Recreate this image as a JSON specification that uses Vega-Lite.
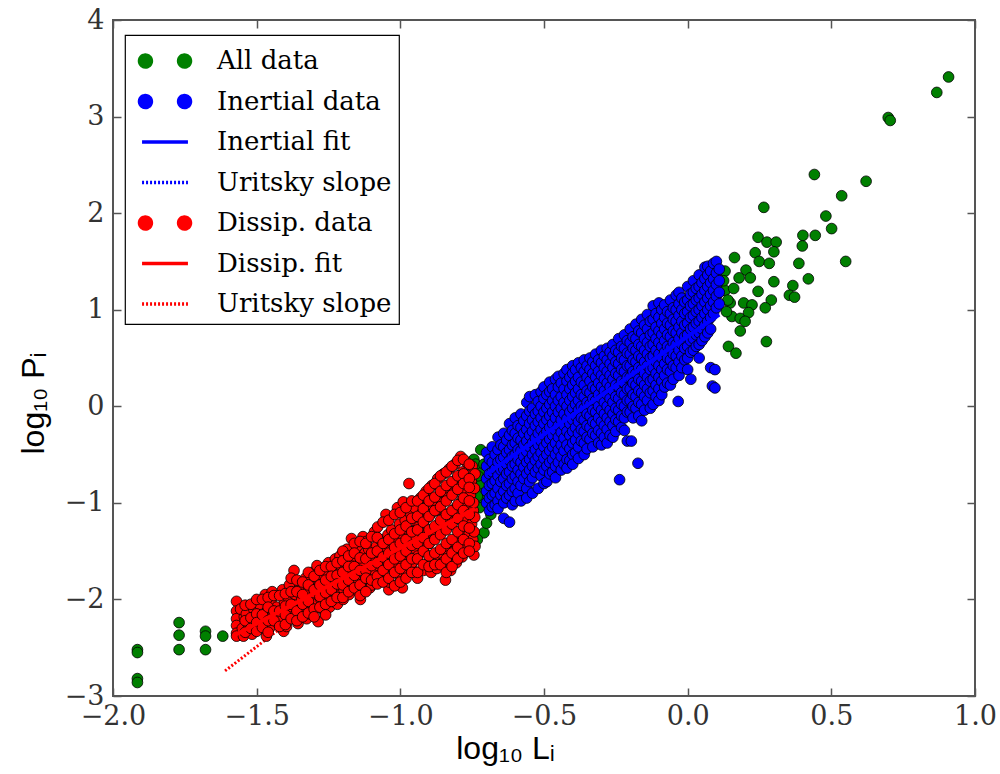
{
"$schema": "https://vega.github.io/schema/vega-lite/v6.json",
"width": 862, "height": 676,
"autosize": {"type": "none"},
"padding": {"left": 113, "top": 20, "right": 25, "bottom": 78},
"background": "white",
"config": {
  "view": {"stroke": "#555", "strokeWidth": 2},
  "axis": {"grid": false, "domain": false, "labelFlush": false, "labelFont": "DejaVu Serif", "labelFontSize": 27, "labelColor": "#333", "tickColor": "#555", "tickWidth": 1.5, "tickSize": -8, "titleFont": "Liberation Sans", "titleFontSize": 32, "titleFontWeight": "normal", "titleColor": "black"},
  "legend": {"orient": "none", "legendX": 12, "legendY": 15, "padding": 7, "symbolOffset": 14, "labelOffset": 33, "rowPadding": 8.5, "symbolSize": 1156, "symbolStrokeWidth": 3.5, "strokeColor": "black", "fillColor": "white", "strokeWidth": 1.2, "labelFont": "DejaVu Serif", "labelFontSize": 26, "labelColor": "black", "labelLimit": 400}
},
"datasets": {
"lines": [
{"x":-1.61,"y":-2.74,"k":"Uritsky slope D"},{"x":-0.76,"y":-0.80,"k":"Uritsky slope D"},
{"x":-0.68,"y":-0.62,"k":"Uritsky slope I"},{"x":0.10,"y":0.92,"k":"Uritsky slope I"},
{"x":-1.57,"y":-2.36,"k":"Dissip. fit"},{"x":-0.74,"y":-1.06,"k":"Dissip. fit"},
{"x":-0.70,"y":-0.70,"k":"Inertial fit"},{"x":0.11,"y":0.95,"k":"Inertial fit"}
],
"green": [
{"x":-1.915,"y":-2.52},{"x":-1.915,"y":-2.55},{"x":-1.915,"y":-2.82},{"x":-1.915,"y":-2.86},
{"x":-1.77,"y":-2.24},{"x":-1.77,"y":-2.37},{"x":-1.77,"y":-2.52},
{"x":-1.678,"y":-2.33},{"x":-1.678,"y":-2.38},{"x":-1.678,"y":-2.52},{"x":-1.618,"y":-2.38},
{"x":-0.72,"y":-0.45},{"x":-0.744,"y":-0.55},{"x":-0.72,"y":-0.69},{"x":-0.714,"y":-0.83},{"x":-0.72,"y":-0.97},{"x":-0.685,"y":-1.12},{"x":-0.709,"y":-1.31},{"x":-0.732,"y":-1.38},{"x":-0.738,"y":-0.6},{"x":-0.709,"y":-0.6},{"x":-0.72,"y":-0.8},{"x":-0.732,"y":-0.93},{"x":-0.70,"y":-1.21},{"x":-0.73,"y":-0.72},{"x":-0.725,"y":-1.05},
{"x":0.908,"y":3.41},{"x":0.867,"y":3.25},{"x":0.698,"y":2.99},{"x":0.705,"y":2.96},{"x":0.441,"y":2.40},{"x":0.621,"y":2.33},{"x":0.536,"y":2.18},{"x":0.265,"y":2.06},{"x":0.481,"y":1.97},{"x":0.501,"y":1.84},{"x":0.245,"y":1.75},{"x":0.276,"y":1.70},{"x":0.308,"y":1.70},{"x":0.401,"y":1.77},{"x":0.444,"y":1.77},{"x":0.399,"y":1.66},{"x":0.30,"y":1.60},{"x":0.235,"y":1.59},{"x":0.163,"y":1.54},{"x":0.55,"y":1.50},{"x":0.249,"y":1.50},{"x":0.284,"y":1.48},{"x":0.387,"y":1.48},{"x":0.13,"y":1.40},{"x":0.203,"y":1.41},{"x":0.179,"y":1.33},{"x":0.218,"y":1.33},{"x":0.30,"y":1.29},{"x":0.42,"y":1.32},{"x":0.366,"y":1.25},{"x":0.354,"y":1.15},{"x":0.372,"y":1.13},{"x":0.245,"y":1.19},{"x":0.291,"y":1.10},{"x":0.27,"y":1.02},{"x":0.148,"y":1.07},{"x":0.195,"y":1.07},{"x":0.224,"y":1.05},{"x":0.154,"y":0.93},{"x":0.183,"y":0.91},{"x":0.212,"y":0.97},{"x":0.183,"y":0.78},{"x":0.20,"y":0.88},{"x":0.274,"y":0.67},{"x":0.142,"y":0.62},{"x":0.168,"y":0.55},{"x":0.13,"y":1.2},{"x":0.14,"y":1.1},{"x":0.125,"y":1.3},{"x":0.135,"y":0.98},{"x":0.16,"y":1.22}
],
"blue": [
{"x":-0.70,"y":-0.48},{"x":-0.70,"y":-0.62},{"x":-0.70,"y":-0.75},{"x":-0.70,"y":-0.88},{"x":-0.70,"y":-1.00},
{"x":-0.69,"y":-0.55},{"x":-0.69,"y":-0.70},{"x":-0.69,"y":-0.82},{"x":-0.69,"y":-0.95},{"x":-0.69,"y":-1.08},
{"x":-0.68,"y":-0.42},{"x":-0.68,"y":-0.58},{"x":-0.68,"y":-0.68},{"x":-0.68,"y":-0.80},{"x":-0.68,"y":-0.92},{"x":-0.68,"y":-1.04},
{"x":-0.67,"y":-0.50},{"x":-0.67,"y":-0.65},{"x":-0.67,"y":-0.77},{"x":-0.67,"y":-0.90},{"x":-0.67,"y":-1.02},
{"x":-0.66,"y":-0.32},{"x":-0.66,"y":-0.45},{"x":-0.66,"y":-0.58},{"x":-0.66,"y":-0.72},{"x":-0.66,"y":-0.85},{"x":-0.66,"y":-0.98},{"x":-0.66,"y":-1.06},
{"x":-0.65,"y":-0.40},{"x":-0.65,"y":-0.55},{"x":-0.65,"y":-0.66},{"x":-0.65,"y":-0.78},{"x":-0.65,"y":-0.92},
{"x":-0.64,"y":-0.28},{"x":-0.64,"y":-0.42},{"x":-0.64,"y":-0.53},{"x":-0.64,"y":-0.65},{"x":-0.64,"y":-0.75},{"x":-0.64,"y":-0.88},{"x":-0.64,"y":-1.00},{"x":-0.64,"y":-1.16},
{"x":-0.63,"y":-0.35},{"x":-0.63,"y":-0.48},{"x":-0.63,"y":-0.60},{"x":-0.63,"y":-0.70},{"x":-0.63,"y":-0.82},{"x":-0.63,"y":-0.95},
{"x":-0.62,"y":-0.18},{"x":-0.62,"y":-0.30},{"x":-0.62,"y":-0.45},{"x":-0.62,"y":-0.56},{"x":-0.62,"y":-0.68},{"x":-0.62,"y":-0.80},{"x":-0.62,"y":-0.92},{"x":-0.62,"y":-1.20},
{"x":-0.61,"y":-0.25},{"x":-0.61,"y":-0.40},{"x":-0.61,"y":-0.52},{"x":-0.61,"y":-0.62},{"x":-0.61,"y":-0.75},{"x":-0.61,"y":-0.88},{"x":-0.61,"y":-1.02},
{"x":-0.60,"y":-0.12},{"x":-0.60,"y":-0.28},{"x":-0.60,"y":-0.38},{"x":-0.60,"y":-0.50},{"x":-0.60,"y":-0.60},{"x":-0.60,"y":-0.72},{"x":-0.60,"y":-0.85},{"x":-0.60,"y":-0.98},
{"x":-0.59,"y":-0.20},{"x":-0.59,"y":-0.33},{"x":-0.59,"y":-0.45},{"x":-0.59,"y":-0.55},{"x":-0.59,"y":-0.66},{"x":-0.59,"y":-0.78},{"x":-0.59,"y":-0.90},
{"x":-0.58,"y":-0.08},{"x":-0.58,"y":-0.22},{"x":-0.58,"y":-0.35},{"x":-0.58,"y":-0.46},{"x":-0.58,"y":-0.58},{"x":-0.58,"y":-0.70},{"x":-0.58,"y":-0.82},{"x":-0.58,"y":-0.98},
{"x":-0.57,"y":-0.15},{"x":-0.57,"y":-0.28},{"x":-0.57,"y":-0.40},{"x":-0.57,"y":-0.52},{"x":-0.57,"y":-0.63},{"x":-0.57,"y":-0.75},
{"x":-0.56,"y":0.04},{"x":-0.56,"y":-0.10},{"x":-0.56,"y":-0.24},{"x":-0.56,"y":-0.36},{"x":-0.56,"y":-0.47},{"x":-0.56,"y":-0.58},{"x":-0.56,"y":-0.70},{"x":-0.56,"y":-0.85},{"x":-0.56,"y":-0.95},
{"x":-0.55,"y":0.10},{"x":-0.55,"y":-0.05},{"x":-0.55,"y":-0.18},{"x":-0.55,"y":-0.30},{"x":-0.55,"y":-0.42},{"x":-0.55,"y":-0.55},{"x":-0.55,"y":-0.66},{"x":-0.55,"y":-0.78},
{"x":-0.54,"y":-0.02},{"x":-0.54,"y":-0.14},{"x":-0.54,"y":-0.26},{"x":-0.54,"y":-0.38},{"x":-0.54,"y":-0.50},{"x":-0.54,"y":-0.62},{"x":-0.54,"y":-0.74},{"x":-0.54,"y":-0.90},
{"x":-0.53,"y":0.12},{"x":-0.53,"y":-0.08},{"x":-0.53,"y":-0.20},{"x":-0.53,"y":-0.33},{"x":-0.53,"y":-0.45},{"x":-0.53,"y":-0.56},{"x":-0.53,"y":-0.68},
{"x":-0.52,"y":0.05},{"x":-0.52,"y":-0.05},{"x":-0.52,"y":-0.16},{"x":-0.52,"y":-0.28},{"x":-0.52,"y":-0.40},{"x":-0.52,"y":-0.52},{"x":-0.52,"y":-0.64},{"x":-0.52,"y":-0.85},
{"x":-0.51,"y":0.15},{"x":-0.51,"y":0.00},{"x":-0.51,"y":-0.12},{"x":-0.51,"y":-0.24},{"x":-0.51,"y":-0.36},{"x":-0.51,"y":-0.48},{"x":-0.51,"y":-0.60},{"x":-0.51,"y":-0.72},
{"x":-0.50,"y":0.20},{"x":-0.50,"y":0.08},{"x":-0.50,"y":-0.06},{"x":-0.50,"y":-0.18},{"x":-0.50,"y":-0.30},{"x":-0.50,"y":-0.42},{"x":-0.50,"y":-0.54},{"x":-0.50,"y":-0.66},{"x":-0.50,"y":-0.80},
{"x":-0.49,"y":0.12},{"x":-0.49,"y":-0.02},{"x":-0.49,"y":-0.14},{"x":-0.49,"y":-0.26},{"x":-0.49,"y":-0.38},{"x":-0.49,"y":-0.50},{"x":-0.49,"y":-0.62},{"x":-0.49,"y":-0.78},
{"x":-0.48,"y":0.25},{"x":-0.48,"y":0.15},{"x":-0.48,"y":0.02},{"x":-0.48,"y":-0.10},{"x":-0.48,"y":-0.22},{"x":-0.48,"y":-0.34},{"x":-0.48,"y":-0.46},{"x":-0.48,"y":-0.58},{"x":-0.48,"y":-0.70},
{"x":-0.47,"y":0.18},{"x":-0.47,"y":0.06},{"x":-0.47,"y":-0.06},{"x":-0.47,"y":-0.18},{"x":-0.47,"y":-0.30},{"x":-0.47,"y":-0.42},{"x":-0.47,"y":-0.55},{"x":-0.47,"y":-0.68},
{"x":-0.46,"y":0.28},{"x":-0.46,"y":0.12},{"x":-0.46,"y":0.00},{"x":-0.46,"y":-0.12},{"x":-0.46,"y":-0.25},{"x":-0.46,"y":-0.38},{"x":-0.46,"y":-0.50},{"x":-0.46,"y":-0.62},{"x":-0.46,"y":-0.74},
{"x":-0.45,"y":0.31},{"x":-0.45,"y":0.20},{"x":-0.45,"y":0.06},{"x":-0.45,"y":-0.06},{"x":-0.45,"y":-0.20},{"x":-0.45,"y":-0.32},{"x":-0.45,"y":-0.45},{"x":-0.45,"y":-0.58},
{"x":-0.44,"y":0.24},{"x":-0.44,"y":0.10},{"x":-0.44,"y":-0.02},{"x":-0.44,"y":-0.14},{"x":-0.44,"y":-0.27},{"x":-0.44,"y":-0.40},{"x":-0.44,"y":-0.52},{"x":-0.44,"y":-0.66},
{"x":-0.43,"y":0.34},{"x":-0.43,"y":0.18},{"x":-0.43,"y":0.04},{"x":-0.43,"y":-0.08},{"x":-0.43,"y":-0.20},{"x":-0.43,"y":-0.33},{"x":-0.43,"y":-0.46},{"x":-0.43,"y":-0.60},
{"x":-0.42,"y":0.38},{"x":-0.42,"y":0.26},{"x":-0.42,"y":0.12},{"x":-0.42,"y":0.00},{"x":-0.42,"y":-0.13},{"x":-0.42,"y":-0.26},{"x":-0.42,"y":-0.40},{"x":-0.42,"y":-0.55},{"x":-0.42,"y":-0.64},
{"x":-0.41,"y":0.30},{"x":-0.41,"y":0.18},{"x":-0.41,"y":0.06},{"x":-0.41,"y":-0.06},{"x":-0.41,"y":-0.18},{"x":-0.41,"y":-0.30},{"x":-0.41,"y":-0.44},{"x":-0.41,"y":-0.56},
{"x":-0.40,"y":0.42},{"x":-0.40,"y":0.34},{"x":-0.40,"y":0.22},{"x":-0.40,"y":0.10},{"x":-0.40,"y":-0.02},{"x":-0.40,"y":-0.14},{"x":-0.40,"y":-0.26},{"x":-0.40,"y":-0.38},{"x":-0.40,"y":-0.50},{"x":-0.40,"y":-0.60},
{"x":-0.39,"y":0.38},{"x":-0.39,"y":0.26},{"x":-0.39,"y":0.14},{"x":-0.39,"y":0.02},{"x":-0.39,"y":-0.10},{"x":-0.39,"y":-0.22},{"x":-0.39,"y":-0.35},{"x":-0.39,"y":-0.48},
{"x":-0.38,"y":0.45},{"x":-0.38,"y":0.30},{"x":-0.38,"y":0.18},{"x":-0.38,"y":0.06},{"x":-0.38,"y":-0.04},{"x":-0.38,"y":-0.16},{"x":-0.38,"y":-0.28},{"x":-0.38,"y":-0.42},{"x":-0.38,"y":-0.54},
{"x":-0.37,"y":0.40},{"x":-0.37,"y":0.25},{"x":-0.37,"y":0.12},{"x":-0.37,"y":0.00},{"x":-0.37,"y":-0.12},{"x":-0.37,"y":-0.24},{"x":-0.37,"y":-0.36},
{"x":-0.36,"y":0.48},{"x":-0.36,"y":0.36},{"x":-0.36,"y":0.22},{"x":-0.36,"y":0.10},{"x":-0.36,"y":-0.02},{"x":-0.36,"y":-0.14},{"x":-0.36,"y":-0.26},{"x":-0.36,"y":-0.38},{"x":-0.36,"y":-0.50},
{"x":-0.35,"y":0.42},{"x":-0.35,"y":0.30},{"x":-0.35,"y":0.16},{"x":-0.35,"y":0.04},{"x":-0.35,"y":-0.08},{"x":-0.35,"y":-0.20},{"x":-0.35,"y":-0.32},{"x":-0.35,"y":-0.44},
{"x":-0.34,"y":0.50},{"x":-0.34,"y":0.38},{"x":-0.34,"y":0.26},{"x":-0.34,"y":0.14},{"x":-0.34,"y":0.02},{"x":-0.34,"y":-0.10},{"x":-0.34,"y":-0.22},{"x":-0.34,"y":-0.34},
{"x":-0.33,"y":0.46},{"x":-0.33,"y":0.34},{"x":-0.33,"y":0.20},{"x":-0.33,"y":0.08},{"x":-0.33,"y":-0.04},{"x":-0.33,"y":-0.16},{"x":-0.33,"y":-0.28},{"x":-0.33,"y":-0.42},
{"x":-0.32,"y":0.54},{"x":-0.32,"y":0.42},{"x":-0.32,"y":0.30},{"x":-0.32,"y":0.18},{"x":-0.32,"y":0.06},{"x":-0.32,"y":-0.06},{"x":-0.32,"y":-0.18},{"x":-0.32,"y":-0.30},
{"x":-0.31,"y":0.48},{"x":-0.31,"y":0.36},{"x":-0.31,"y":0.24},{"x":-0.31,"y":0.12},{"x":-0.31,"y":0.00},{"x":-0.31,"y":-0.12},{"x":-0.31,"y":-0.25},{"x":-0.31,"y":-0.38},
{"x":-0.30,"y":0.58},{"x":-0.30,"y":0.45},{"x":-0.30,"y":0.32},{"x":-0.30,"y":0.20},{"x":-0.30,"y":0.08},{"x":-0.30,"y":-0.04},{"x":-0.30,"y":-0.16},{"x":-0.30,"y":-0.28},{"x":-0.30,"y":-0.40},
{"x":-0.29,"y":0.52},{"x":-0.29,"y":0.40},{"x":-0.29,"y":0.28},{"x":-0.29,"y":0.16},{"x":-0.29,"y":0.04},{"x":-0.29,"y":-0.08},{"x":-0.29,"y":-0.20},{"x":-0.29,"y":-0.32},
{"x":-0.28,"y":0.60},{"x":-0.28,"y":0.48},{"x":-0.28,"y":0.36},{"x":-0.28,"y":0.24},{"x":-0.28,"y":0.12},{"x":-0.28,"y":0.00},{"x":-0.28,"y":-0.12},{"x":-0.28,"y":-0.24},{"x":-0.28,"y":-0.38},
{"x":-0.27,"y":0.56},{"x":-0.27,"y":0.44},{"x":-0.27,"y":0.32},{"x":-0.27,"y":0.20},{"x":-0.27,"y":0.08},{"x":-0.27,"y":-0.04},{"x":-0.27,"y":-0.16},{"x":-0.27,"y":-0.30},
{"x":-0.26,"y":0.64},{"x":-0.26,"y":0.52},{"x":-0.26,"y":0.40},{"x":-0.26,"y":0.28},{"x":-0.26,"y":0.16},{"x":-0.26,"y":0.04},{"x":-0.26,"y":-0.08},{"x":-0.26,"y":-0.20},{"x":-0.26,"y":-0.32},
{"x":-0.25,"y":0.58},{"x":-0.25,"y":0.46},{"x":-0.25,"y":0.34},{"x":-0.25,"y":0.22},{"x":-0.25,"y":0.10},{"x":-0.25,"y":-0.02},{"x":-0.25,"y":-0.14},{"x":-0.25,"y":-0.26},
{"x":-0.24,"y":0.70},{"x":-0.24,"y":0.56},{"x":-0.24,"y":0.44},{"x":-0.24,"y":0.32},{"x":-0.24,"y":0.20},{"x":-0.24,"y":0.08},{"x":-0.24,"y":-0.04},{"x":-0.24,"y":-0.16},{"x":-0.237,"y":-0.76},
{"x":-0.23,"y":0.62},{"x":-0.23,"y":0.50},{"x":-0.23,"y":0.38},{"x":-0.23,"y":0.26},{"x":-0.23,"y":0.14},{"x":-0.23,"y":0.02},{"x":-0.23,"y":-0.10},{"x":-0.23,"y":-0.22},
{"x":-0.22,"y":0.74},{"x":-0.22,"y":0.60},{"x":-0.22,"y":0.48},{"x":-0.22,"y":0.36},{"x":-0.22,"y":0.24},{"x":-0.22,"y":0.12},{"x":-0.22,"y":0.00},{"x":-0.22,"y":-0.12},{"x":-0.22,"y":-0.25},
{"x":-0.21,"y":0.68},{"x":-0.21,"y":0.55},{"x":-0.21,"y":0.42},{"x":-0.21,"y":0.30},{"x":-0.21,"y":0.18},{"x":-0.21,"y":0.06},{"x":-0.21,"y":-0.06},{"x":-0.21,"y":-0.36},
{"x":-0.20,"y":0.80},{"x":-0.20,"y":0.66},{"x":-0.20,"y":0.54},{"x":-0.20,"y":0.42},{"x":-0.20,"y":0.30},{"x":-0.20,"y":0.18},{"x":-0.20,"y":0.06},{"x":-0.20,"y":-0.06},{"x":-0.196,"y":-0.36},
{"x":-0.19,"y":0.72},{"x":-0.19,"y":0.60},{"x":-0.19,"y":0.48},{"x":-0.19,"y":0.36},{"x":-0.19,"y":0.24},{"x":-0.19,"y":0.12},{"x":-0.19,"y":0.00},{"x":-0.19,"y":-0.12},
{"x":-0.18,"y":0.85},{"x":-0.18,"y":0.70},{"x":-0.18,"y":0.58},{"x":-0.18,"y":0.46},{"x":-0.18,"y":0.34},{"x":-0.18,"y":0.22},{"x":-0.18,"y":0.10},{"x":-0.18,"y":-0.02},{"x":-0.173,"y":-0.59},
{"x":-0.17,"y":0.78},{"x":-0.17,"y":0.64},{"x":-0.17,"y":0.52},{"x":-0.17,"y":0.40},{"x":-0.17,"y":0.28},{"x":-0.17,"y":0.16},{"x":-0.17,"y":0.04},{"x":-0.17,"y":-0.10},
{"x":-0.16,"y":0.90},{"x":-0.16,"y":0.76},{"x":-0.16,"y":0.62},{"x":-0.16,"y":0.50},{"x":-0.16,"y":0.38},{"x":-0.16,"y":0.26},{"x":-0.16,"y":0.14},{"x":-0.16,"y":0.02},{"x":-0.16,"y":-0.15},
{"x":-0.15,"y":0.84},{"x":-0.15,"y":0.70},{"x":-0.15,"y":0.58},{"x":-0.15,"y":0.46},{"x":-0.15,"y":0.34},{"x":-0.15,"y":0.22},{"x":-0.15,"y":0.10},{"x":-0.15,"y":-0.04},
{"x":-0.14,"y":0.95},{"x":-0.14,"y":0.80},{"x":-0.14,"y":0.66},{"x":-0.14,"y":0.54},{"x":-0.14,"y":0.42},{"x":-0.14,"y":0.30},{"x":-0.14,"y":0.18},{"x":-0.14,"y":0.06},
{"x":-0.13,"y":0.88},{"x":-0.13,"y":0.74},{"x":-0.13,"y":0.62},{"x":-0.13,"y":0.50},{"x":-0.13,"y":0.38},{"x":-0.13,"y":0.26},{"x":-0.13,"y":0.14},{"x":-0.13,"y":-0.02},
{"x":-0.12,"y":1.04},{"x":-0.12,"y":0.90},{"x":-0.12,"y":0.76},{"x":-0.12,"y":0.64},{"x":-0.12,"y":0.52},{"x":-0.12,"y":0.40},{"x":-0.12,"y":0.28},{"x":-0.12,"y":0.16},{"x":-0.12,"y":0.02},
{"x":-0.11,"y":0.96},{"x":-0.11,"y":0.82},{"x":-0.11,"y":0.70},{"x":-0.11,"y":0.58},{"x":-0.11,"y":0.46},{"x":-0.11,"y":0.34},{"x":-0.11,"y":0.22},{"x":-0.11,"y":0.10},
{"x":-0.10,"y":1.07},{"x":-0.10,"y":0.92},{"x":-0.10,"y":0.78},{"x":-0.10,"y":0.66},{"x":-0.10,"y":0.54},{"x":-0.10,"y":0.42},{"x":-0.10,"y":0.30},{"x":-0.10,"y":0.18},{"x":-0.10,"y":0.06},
{"x":-0.09,"y":1.00},{"x":-0.09,"y":0.86},{"x":-0.09,"y":0.74},{"x":-0.09,"y":0.62},{"x":-0.09,"y":0.50},{"x":-0.09,"y":0.38},{"x":-0.09,"y":0.26},{"x":-0.09,"y":0.12},
{"x":-0.08,"y":1.05},{"x":-0.08,"y":0.92},{"x":-0.08,"y":0.80},{"x":-0.08,"y":0.68},{"x":-0.08,"y":0.56},{"x":-0.08,"y":0.44},{"x":-0.08,"y":0.32},{"x":-0.08,"y":0.20},
{"x":-0.07,"y":0.98},{"x":-0.07,"y":0.86},{"x":-0.07,"y":0.74},{"x":-0.07,"y":0.62},{"x":-0.07,"y":0.50},{"x":-0.07,"y":0.38},{"x":-0.07,"y":0.24},
{"x":-0.06,"y":1.10},{"x":-0.06,"y":0.96},{"x":-0.06,"y":0.84},{"x":-0.06,"y":0.72},{"x":-0.06,"y":0.60},{"x":-0.06,"y":0.48},{"x":-0.06,"y":0.36},{"x":-0.06,"y":0.22},
{"x":-0.05,"y":1.02},{"x":-0.05,"y":0.90},{"x":-0.05,"y":0.78},{"x":-0.05,"y":0.66},{"x":-0.05,"y":0.54},{"x":-0.05,"y":0.42},{"x":-0.05,"y":0.28},
{"x":-0.04,"y":1.15},{"x":-0.04,"y":1.00},{"x":-0.04,"y":0.88},{"x":-0.04,"y":0.76},{"x":-0.04,"y":0.64},{"x":-0.04,"y":0.52},{"x":-0.04,"y":0.40},{"x":-0.033,"y":0.05},
{"x":-0.03,"y":1.18},{"x":-0.03,"y":1.06},{"x":-0.03,"y":0.94},{"x":-0.03,"y":0.82},{"x":-0.03,"y":0.70},{"x":-0.03,"y":0.58},{"x":-0.03,"y":0.46},{"x":-0.03,"y":0.32},
{"x":-0.02,"y":1.12},{"x":-0.02,"y":1.00},{"x":-0.02,"y":0.88},{"x":-0.02,"y":0.76},{"x":-0.02,"y":0.64},{"x":-0.02,"y":0.52},{"x":-0.02,"y":0.40},
{"x":-0.01,"y":1.08},{"x":-0.01,"y":0.96},{"x":-0.01,"y":0.84},{"x":-0.01,"y":0.72},{"x":-0.01,"y":0.60},{"x":-0.01,"y":0.48},
{"x":0.00,"y":1.24},{"x":0.00,"y":1.10},{"x":0.00,"y":0.98},{"x":0.00,"y":0.86},{"x":0.00,"y":0.74},{"x":0.00,"y":0.62},{"x":0.00,"y":0.50},{"x":0.00,"y":0.38},
{"x":0.01,"y":1.16},{"x":0.01,"y":1.04},{"x":0.01,"y":0.92},{"x":0.01,"y":0.80},{"x":0.01,"y":0.68},{"x":0.01,"y":0.56},{"x":0.011,"y":0.28},
{"x":0.02,"y":1.30},{"x":0.02,"y":1.18},{"x":0.02,"y":1.06},{"x":0.02,"y":0.94},{"x":0.02,"y":0.82},{"x":0.02,"y":0.70},{"x":0.02,"y":0.58},
{"x":0.03,"y":1.22},{"x":0.03,"y":1.10},{"x":0.03,"y":0.98},{"x":0.03,"y":0.86},{"x":0.03,"y":0.74},{"x":0.03,"y":0.62},
{"x":0.04,"y":1.36},{"x":0.04,"y":1.24},{"x":0.04,"y":1.12},{"x":0.04,"y":1.00},{"x":0.04,"y":0.88},{"x":0.04,"y":0.76},{"x":0.04,"y":0.64},{"x":0.04,"y":0.50},
{"x":0.05,"y":1.28},{"x":0.05,"y":1.16},{"x":0.05,"y":1.04},{"x":0.05,"y":0.92},{"x":0.05,"y":0.80},{"x":0.05,"y":0.68},
{"x":0.06,"y":1.44},{"x":0.06,"y":1.32},{"x":0.06,"y":1.20},{"x":0.06,"y":1.08},{"x":0.06,"y":0.96},{"x":0.06,"y":0.84},{"x":0.06,"y":0.72},
{"x":0.07,"y":1.45},{"x":0.07,"y":1.36},{"x":0.07,"y":1.24},{"x":0.07,"y":1.12},{"x":0.07,"y":1.00},{"x":0.07,"y":0.88},{"x":0.07,"y":0.76},
{"x":0.08,"y":1.40},{"x":0.08,"y":1.28},{"x":0.08,"y":1.16},{"x":0.08,"y":1.04},{"x":0.08,"y":0.92},{"x":0.08,"y":0.80},{"x":0.08,"y":0.40},
{"x":0.09,"y":1.48},{"x":0.09,"y":1.32},{"x":0.09,"y":1.20},{"x":0.09,"y":1.08},{"x":0.09,"y":0.96},{"x":0.086,"y":0.21},
{"x":0.10,"y":1.50},{"x":0.10,"y":1.38},{"x":0.10,"y":1.26},{"x":0.10,"y":1.14},{"x":0.10,"y":1.02},{"x":0.095,"y":0.19},{"x":0.095,"y":0.38},
{"x":0.11,"y":1.42},{"x":0.11,"y":1.30},{"x":0.11,"y":1.18},{"x":0.11,"y":1.06}
],
"red": [
{"x":-1.57,"y":-2.02},{"x":-1.57,"y":-2.12},{"x":-1.57,"y":-2.20},{"x":-1.57,"y":-2.27},{"x":-1.57,"y":-2.35},{"x":-1.57,"y":-2.38},
{"x":-1.55,"y":-2.30},{"x":-1.543,"y":-2.18},{"x":-1.556,"y":-2.10},{"x":-1.546,"y":-2.38},
{"x":-1.53,"y":-2.25},{"x":-1.523,"y":-2.33},{"x":-1.536,"y":-2.15},
{"x":-1.51,"y":-2.10},{"x":-1.503,"y":-2.28},{"x":-1.516,"y":-2.36},{"x":-1.506,"y":-2.20},
{"x":-1.49,"y":-2.05},{"x":-1.483,"y":-2.22},{"x":-1.496,"y":-2.31},
{"x":-1.47,"y":-1.95},{"x":-1.463,"y":-2.12},{"x":-1.476,"y":-2.26},{"x":-1.466,"y":-2.38},
{"x":-1.45,"y":-2.02},{"x":-1.443,"y":-2.18},{"x":-1.456,"y":-2.30},{"x":-1.446,"y":-1.92},
{"x":-1.43,"y":-2.08},{"x":-1.423,"y":-2.25},{"x":-1.436,"y":-2.15},
{"x":-1.41,"y":-1.90},{"x":-1.403,"y":-2.03},{"x":-1.416,"y":-2.20},{"x":-1.406,"y":-2.33},
{"x":-1.39,"y":-1.98},{"x":-1.383,"y":-2.12},{"x":-1.396,"y":-2.28},{"x":-1.386,"y":-1.85},
{"x":-1.37,"y":-1.70},{"x":-1.363,"y":-2.05},{"x":-1.376,"y":-2.18},{"x":-1.366,"y":-1.95},
{"x":-1.35,"y":-1.88},{"x":-1.343,"y":-2.00},{"x":-1.356,"y":-2.25},{"x":-1.346,"y":-2.10},
{"x":-1.33,"y":-1.78},{"x":-1.323,"y":-1.92},{"x":-1.336,"y":-2.08},{"x":-1.326,"y":-2.20},
{"x":-1.31,"y":-1.85},{"x":-1.303,"y":-1.98},{"x":-1.316,"y":-2.15},{"x":-1.306,"y":-1.72},
{"x":-1.29,"y":-1.65},{"x":-1.283,"y":-1.80},{"x":-1.296,"y":-2.05},{"x":-1.286,"y":-2.23},{"x":-1.299,"y":-1.93},
{"x":-1.27,"y":-1.75},{"x":-1.263,"y":-1.90},{"x":-1.276,"y":-2.00},{"x":-1.266,"y":-2.12},
{"x":-1.25,"y":-1.62},{"x":-1.243,"y":-1.82},{"x":-1.256,"y":-1.95},{"x":-1.246,"y":-2.08},{"x":-1.259,"y":-1.70},
{"x":-1.23,"y":-1.72},{"x":-1.223,"y":-1.88},{"x":-1.236,"y":-2.02},{"x":-1.226,"y":-1.58},
{"x":-1.21,"y":-1.55},{"x":-1.203,"y":-1.68},{"x":-1.216,"y":-1.80},{"x":-1.206,"y":-1.95},{"x":-1.219,"y":-2.05},
{"x":-1.19,"y":-1.62},{"x":-1.183,"y":-1.75},{"x":-1.196,"y":-1.90},{"x":-1.186,"y":-1.48},{"x":-1.199,"y":-2.00},
{"x":-1.17,"y":-1.37},{"x":-1.163,"y":-1.58},{"x":-1.176,"y":-1.70},{"x":-1.166,"y":-1.85},{"x":-1.179,"y":-1.95},
{"x":-1.15,"y":-1.45},{"x":-1.143,"y":-1.62},{"x":-1.156,"y":-1.78},{"x":-1.146,"y":-1.92},{"x":-1.159,"y":-1.55},
{"x":-1.13,"y":-1.35},{"x":-1.123,"y":-1.52},{"x":-1.136,"y":-1.66},{"x":-1.126,"y":-1.82},{"x":-1.139,"y":-2.00},
{"x":-1.11,"y":-1.48},{"x":-1.103,"y":-1.60},{"x":-1.116,"y":-1.73},{"x":-1.106,"y":-1.88},{"x":-1.119,"y":-1.40},
{"x":-1.09,"y":-1.30},{"x":-1.083,"y":-1.45},{"x":-1.096,"y":-1.58},{"x":-1.086,"y":-1.72},{"x":-1.099,"y":-1.85},
{"x":-1.07,"y":-1.38},{"x":-1.063,"y":-1.52},{"x":-1.076,"y":-1.65},{"x":-1.066,"y":-1.78},{"x":-1.079,"y":-1.25},
{"x":-1.05,"y":-1.12},{"x":-1.043,"y":-1.33},{"x":-1.056,"y":-1.47},{"x":-1.046,"y":-1.60},{"x":-1.059,"y":-1.75},{"x":-1.04,"y":-1.90},
{"x":-1.03,"y":-1.28},{"x":-1.023,"y":-1.42},{"x":-1.036,"y":-1.55},{"x":-1.026,"y":-1.68},{"x":-1.039,"y":-1.82},
{"x":-1.01,"y":-1.05},{"x":-1.003,"y":-1.22},{"x":-1.016,"y":-1.38},{"x":-1.006,"y":-1.50},{"x":-1.019,"y":-1.63},{"x":-1.00,"y":-1.77},
{"x":-0.99,"y":-0.99},{"x":-0.983,"y":-1.18},{"x":-0.996,"y":-1.32},{"x":-0.986,"y":-1.46},{"x":-0.999,"y":-1.60},{"x":-0.98,"y":-1.72},{"x":-0.993,"y":-1.88},
{"x":-0.97,"y":-0.80},{"x":-0.963,"y":-1.12},{"x":-0.976,"y":-1.27},{"x":-0.966,"y":-1.40},{"x":-0.979,"y":-1.55},{"x":-0.96,"y":-1.68},
{"x":-0.95,"y":-1.05},{"x":-0.943,"y":-1.20},{"x":-0.956,"y":-1.35},{"x":-0.946,"y":-1.48},{"x":-0.959,"y":-1.62},{"x":-0.94,"y":-1.78},
{"x":-0.93,"y":-0.95},{"x":-0.923,"y":-1.10},{"x":-0.936,"y":-1.25},{"x":-0.926,"y":-1.40},{"x":-0.939,"y":-1.55},{"x":-0.92,"y":-1.70},
{"x":-0.91,"y":-0.88},{"x":-0.903,"y":-1.02},{"x":-0.916,"y":-1.18},{"x":-0.906,"y":-1.32},{"x":-0.919,"y":-1.47},{"x":-0.90,"y":-1.62},
{"x":-0.89,"y":-0.82},{"x":-0.883,"y":-0.98},{"x":-0.896,"y":-1.12},{"x":-0.886,"y":-1.27},{"x":-0.899,"y":-1.42},{"x":-0.88,"y":-1.58},{"x":-0.893,"y":-1.72},
{"x":-0.87,"y":-0.75},{"x":-0.863,"y":-0.92},{"x":-0.876,"y":-1.08},{"x":-0.866,"y":-1.22},{"x":-0.879,"y":-1.36},{"x":-0.86,"y":-1.52},{"x":-0.873,"y":-1.68},
{"x":-0.85,"y":-0.70},{"x":-0.843,"y":-0.85},{"x":-0.856,"y":-1.00},{"x":-0.846,"y":-1.15},{"x":-0.859,"y":-1.30},{"x":-0.84,"y":-1.45},{"x":-0.853,"y":-1.62},{"x":-0.843,"y":-1.80},
{"x":-0.83,"y":-0.65},{"x":-0.823,"y":-0.80},{"x":-0.836,"y":-0.95},{"x":-0.826,"y":-1.10},{"x":-0.839,"y":-1.25},{"x":-0.82,"y":-1.40},{"x":-0.833,"y":-1.55},{"x":-0.825,"y":-1.70},
{"x":-0.81,"y":-0.60},{"x":-0.803,"y":-0.75},{"x":-0.816,"y":-0.90},{"x":-0.806,"y":-1.05},{"x":-0.819,"y":-1.20},{"x":-0.80,"y":-1.35},{"x":-0.813,"y":-1.50},{"x":-0.805,"y":-1.62},
{"x":-0.79,"y":-0.52},{"x":-0.783,"y":-0.68},{"x":-0.796,"y":-0.84},{"x":-0.786,"y":-0.98},{"x":-0.799,"y":-1.12},{"x":-0.78,"y":-1.28},{"x":-0.793,"y":-1.42},{"x":-0.785,"y":-1.56},
{"x":-0.77,"y":-0.58},{"x":-0.763,"y":-0.72},{"x":-0.776,"y":-0.88},{"x":-0.766,"y":-1.02},{"x":-0.779,"y":-1.18},{"x":-0.76,"y":-1.32},{"x":-0.773,"y":-1.48},
{"x":-0.75,"y":-0.62},{"x":-0.753,"y":-0.78},{"x":-0.756,"y":-0.92},{"x":-0.746,"y":-1.08},{"x":-0.752,"y":-1.22},{"x":-0.748,"y":-1.38},{"x":-0.744,"y":-1.54},
{"x":-0.74,"y":-0.70},{"x":-0.742,"y":-0.85},{"x":-0.745,"y":-1.00},{"x":-0.741,"y":-1.15},{"x":-0.743,"y":-1.30},{"x":-0.74,"y":-1.45},
{"x":-1.54,"y":-2.06},{"x":-1.54,"y":-2.22},{"x":-1.54,"y":-2.34},
{"x":-1.52,"y":-2.05},{"x":-1.52,"y":-2.19},{"x":-1.52,"y":-2.30},
{"x":-1.50,"y":-2.00},{"x":-1.50,"y":-2.15},{"x":-1.50,"y":-2.24},{"x":-1.50,"y":-2.33},
{"x":-1.48,"y":-2.00},{"x":-1.48,"y":-2.16},{"x":-1.48,"y":-2.29},
{"x":-1.46,"y":-1.98},{"x":-1.46,"y":-2.08},{"x":-1.46,"y":-2.22},{"x":-1.46,"y":-2.34},
{"x":-1.44,"y":-1.96},{"x":-1.44,"y":-2.12},{"x":-1.44,"y":-2.22},
{"x":-1.42,"y":-1.96},{"x":-1.42,"y":-2.12},{"x":-1.42,"y":-2.28},
{"x":-1.40,"y":-1.94},{"x":-1.40,"y":-2.07},{"x":-1.40,"y":-2.16},{"x":-1.40,"y":-2.26},
{"x":-1.38,"y":-1.78},{"x":-1.38,"y":-1.92},{"x":-1.38,"y":-2.05},{"x":-1.38,"y":-2.20},
{"x":-1.36,"y":-1.80},{"x":-1.36,"y":-1.92},{"x":-1.36,"y":-2.12},{"x":-1.36,"y":-2.22},
{"x":-1.34,"y":-1.82},{"x":-1.34,"y":-1.95},{"x":-1.34,"y":-2.05},{"x":-1.34,"y":-2.18},
{"x":-1.32,"y":-1.72},{"x":-1.32,"y":-1.85},{"x":-1.32,"y":-2.02},{"x":-1.32,"y":-2.14},
{"x":-1.30,"y":-1.76},{"x":-1.30,"y":-1.90},{"x":-1.30,"y":-2.10},{"x":-1.30,"y":-2.18},
{"x":-1.28,"y":-1.70},{"x":-1.28,"y":-1.85},{"x":-1.28,"y":-1.97},{"x":-1.28,"y":-2.08},
{"x":-1.26,"y":-1.66},{"x":-1.26,"y":-1.80},{"x":-1.26,"y":-1.93},{"x":-1.26,"y":-2.05},{"x":-1.26,"y":-2.16},
{"x":-1.24,"y":-1.66},{"x":-1.24,"y":-1.76},{"x":-1.24,"y":-1.90},{"x":-1.24,"y":-2.02},
{"x":-1.22,"y":-1.62},{"x":-1.22,"y":-1.75},{"x":-1.22,"y":-1.84},{"x":-1.22,"y":-1.98},
{"x":-1.20,"y":-1.50},{"x":-1.20,"y":-1.60},{"x":-1.20,"y":-1.72},{"x":-1.20,"y":-1.85},{"x":-1.20,"y":-1.98},
{"x":-1.18,"y":-1.55},{"x":-1.18,"y":-1.66},{"x":-1.18,"y":-1.80},{"x":-1.18,"y":-1.92},
{"x":-1.16,"y":-1.42},{"x":-1.16,"y":-1.52},{"x":-1.16,"y":-1.66},{"x":-1.16,"y":-1.75},{"x":-1.16,"y":-1.88},
{"x":-1.14,"y":-1.40},{"x":-1.14,"y":-1.57},{"x":-1.14,"y":-1.70},{"x":-1.14,"y":-1.85},{"x":-1.14,"y":-1.96},
{"x":-1.12,"y":-1.42},{"x":-1.12,"y":-1.58},{"x":-1.12,"y":-1.70},{"x":-1.12,"y":-1.78},{"x":-1.12,"y":-1.92},
{"x":-1.10,"y":-1.35},{"x":-1.10,"y":-1.52},{"x":-1.10,"y":-1.65},{"x":-1.10,"y":-1.80},
{"x":-1.08,"y":-1.36},{"x":-1.08,"y":-1.50},{"x":-1.08,"y":-1.62},{"x":-1.08,"y":-1.76},{"x":-1.08,"y":-1.84},
{"x":-1.06,"y":-1.20},{"x":-1.06,"y":-1.42},{"x":-1.06,"y":-1.56},{"x":-1.06,"y":-1.70},{"x":-1.06,"y":-1.82},
{"x":-1.04,"y":-1.18},{"x":-1.04,"y":-1.38},{"x":-1.04,"y":-1.52},{"x":-1.04,"y":-1.64},{"x":-1.04,"y":-1.78},
{"x":-1.02,"y":-1.12},{"x":-1.02,"y":-1.32},{"x":-1.02,"y":-1.46},{"x":-1.02,"y":-1.58},{"x":-1.02,"y":-1.72},{"x":-1.02,"y":-1.86},
{"x":-1.00,"y":-1.10},{"x":-1.00,"y":-1.28},{"x":-1.00,"y":-1.42},{"x":-1.00,"y":-1.55},{"x":-1.00,"y":-1.68},{"x":-1.00,"y":-1.82},
{"x":-0.98,"y":-1.05},{"x":-0.98,"y":-1.24},{"x":-0.98,"y":-1.38},{"x":-0.98,"y":-1.50},{"x":-0.98,"y":-1.64},{"x":-0.98,"y":-1.78},
{"x":-0.96,"y":-0.98},{"x":-0.96,"y":-1.16},{"x":-0.96,"y":-1.30},{"x":-0.96,"y":-1.44},{"x":-0.96,"y":-1.58},{"x":-0.96,"y":-1.72},
{"x":-0.94,"y":-0.98},{"x":-0.94,"y":-1.14},{"x":-0.94,"y":-1.28},{"x":-0.94,"y":-1.42},{"x":-0.94,"y":-1.58},{"x":-0.94,"y":-1.72},
{"x":-0.92,"y":-0.92},{"x":-0.92,"y":-1.06},{"x":-0.92,"y":-1.20},{"x":-0.92,"y":-1.36},{"x":-0.92,"y":-1.50},{"x":-0.92,"y":-1.64},
{"x":-0.90,"y":-0.85},{"x":-0.90,"y":-0.98},{"x":-0.90,"y":-1.14},{"x":-0.90,"y":-1.28},{"x":-0.90,"y":-1.42},{"x":-0.90,"y":-1.55},{"x":-0.90,"y":-1.66},
{"x":-0.88,"y":-0.80},{"x":-0.88,"y":-0.94},{"x":-0.88,"y":-1.08},{"x":-0.88,"y":-1.24},{"x":-0.88,"y":-1.38},{"x":-0.88,"y":-1.52},{"x":-0.88,"y":-1.64},
{"x":-0.86,"y":-0.72},{"x":-0.86,"y":-0.88},{"x":-0.86,"y":-1.04},{"x":-0.86,"y":-1.18},{"x":-0.86,"y":-1.33},{"x":-0.86,"y":-1.48},{"x":-0.86,"y":-1.64},
{"x":-0.84,"y":-0.68},{"x":-0.84,"y":-0.82},{"x":-0.84,"y":-0.98},{"x":-0.84,"y":-1.12},{"x":-0.84,"y":-1.28},{"x":-0.84,"y":-1.42},{"x":-0.84,"y":-1.58},{"x":-0.84,"y":-1.72},
{"x":-0.82,"y":-0.62},{"x":-0.82,"y":-0.78},{"x":-0.82,"y":-0.92},{"x":-0.82,"y":-1.08},{"x":-0.82,"y":-1.22},{"x":-0.82,"y":-1.38},{"x":-0.82,"y":-1.52},{"x":-0.82,"y":-1.66},
{"x":-0.80,"y":-0.56},{"x":-0.80,"y":-0.72},{"x":-0.80,"y":-0.86},{"x":-0.80,"y":-1.02},{"x":-0.80,"y":-1.16},{"x":-0.80,"y":-1.30},{"x":-0.80,"y":-1.46},{"x":-0.80,"y":-1.58},
{"x":-0.78,"y":-0.55},{"x":-0.78,"y":-0.70},{"x":-0.78,"y":-0.80},{"x":-0.78,"y":-0.95},{"x":-0.78,"y":-1.08},{"x":-0.78,"y":-1.24},{"x":-0.78,"y":-1.38},{"x":-0.78,"y":-1.52},
{"x":-0.76,"y":-0.60},{"x":-0.76,"y":-0.75},{"x":-0.76,"y":-0.84},{"x":-0.76,"y":-0.98},{"x":-0.76,"y":-1.12},{"x":-0.76,"y":-1.26},{"x":-0.76,"y":-1.42},{"x":-0.76,"y":-1.50}
]
},
"resolve": {"axis": {"x": "independent", "y": "independent"}},
"layer": [
{
  "data": {"name": "lines"},
  "transform": [{"filter": "indexof(datum.k, 'slope') >= 0"}],
  "mark": {"type": "line", "strokeDash": [2, 2], "strokeWidth": 3, "clip": true},
  "encoding": {
    "x": {"field": "x", "type": "quantitative", "scale": {"domain": [-2, 1], "nice": false, "zero": false}, "axis": null},
    "y": {"field": "y", "type": "quantitative", "scale": {"domain": [-3, 4], "nice": false, "zero": false}, "axis": null},
    "color": {"field": "k", "type": "nominal",
      "scale": {"domain": ["All data", "Inertial data", "Inertial fit", "Uritsky slope I", "Dissip. data", "Dissip. fit", "Uritsky slope D"],
                "range": ["#008000", "#0000ff", "#0000ff", "#0000ff", "#ff0000", "#ff0000", "#ff0000"]},
      "legend": {
        "title": null,
        "labelExpr": "indexof(datum.label, 'Uritsky') >= 0 ? 'Uritsky slope' : datum.label",
        "encode": {"symbols": {"update": {
          "shape": {"signal": "indexof(datum.value, 'data') >= 0 ? 'M -1.5,0 A 0.35,0.35 0 1,0 -0.8,0 A 0.35,0.35 0 1,0 -1.5,0 Z M 0.8,0 A 0.35,0.35 0 1,0 1.5,0 A 0.35,0.35 0 1,0 0.8,0 Z' : 'M -1.35,0 L 1.35,0'"},
          "fill": {"signal": "indexof(datum.value, 'data') >= 0 ? (datum.value == 'All data' ? '#008000' : (datum.value == 'Inertial data' ? '#0000ff' : '#ff0000')) : 'transparent'"},
          "stroke": {"signal": "indexof(datum.value, 'data') >= 0 ? 'transparent' : ((indexof(datum.value, 'Inertial') >= 0 || datum.value == 'Uritsky slope I') ? '#0000ff' : '#ff0000')"},
          "strokeDash": {"signal": "indexof(datum.value, 'slope') >= 0 ? [2, 2] : [1, 0]"}
        }}}
      }
    }
  }
},
{
  "data": {"name": "green"},
  "mark": {"type": "point", "filled": true, "size": 115, "stroke": "black", "strokeWidth": 0.8, "opacity": 1},
  "encoding": {
    "x": {"field": "x", "type": "quantitative", "axis": {"values": [-2, -1.5, -1, -0.5, 0, 0.5, 1], "format": ".1f", "labelPadding": 15, "title": "log₁₀ Lᵢ", "titleX": 392, "titleY": 62, "titleBaseline": "alphabetic", "titleAlign": "center"}},
    "y": {"field": "y", "type": "quantitative", "axis": {"values": [-3, -2, -1, 0, 1, 2, 3, 4], "format": "d", "labelPadding": 17, "title": "log₁₀ Pᵢ", "titleX": -70, "titleY": 383, "titleAngle": 270, "titleBaseline": "alphabetic", "titleAlign": "center"}},
    "color": {"datum": "All data", "type": "nominal"}
  }
},
{
  "data": {"name": "blue"},
  "mark": {"type": "point", "filled": true, "size": 115, "stroke": "black", "strokeWidth": 0.8, "opacity": 1},
  "encoding": {
    "x": {"field": "x", "type": "quantitative", "axis": null},
    "y": {"field": "y", "type": "quantitative", "axis": null},
    "color": {"datum": "Inertial data", "type": "nominal"}
  }
},
{
  "data": {"name": "red"},
  "mark": {"type": "point", "filled": true, "size": 115, "stroke": "black", "strokeWidth": 0.8, "opacity": 1},
  "encoding": {
    "x": {"field": "x", "type": "quantitative", "axis": null},
    "y": {"field": "y", "type": "quantitative", "axis": null},
    "color": {"datum": "Dissip. data", "type": "nominal"}
  }
},
{
  "data": {"name": "lines"},
  "transform": [{"filter": "indexof(datum.k, 'fit') >= 0"}],
  "mark": {"type": "line", "strokeWidth": 4, "clip": true},
  "encoding": {
    "x": {"field": "x", "type": "quantitative", "axis": {"orient": "top", "values": [-2, -1.5, -1, -0.5, 0, 0.5, 1], "labels": false, "title": null}},
    "y": {"field": "y", "type": "quantitative", "axis": {"orient": "right", "values": [-3, -2, -1, 0, 1, 2, 3, 4], "labels": false, "title": null}},
    "color": {"field": "k", "type": "nominal"}
  }
}
]
}
